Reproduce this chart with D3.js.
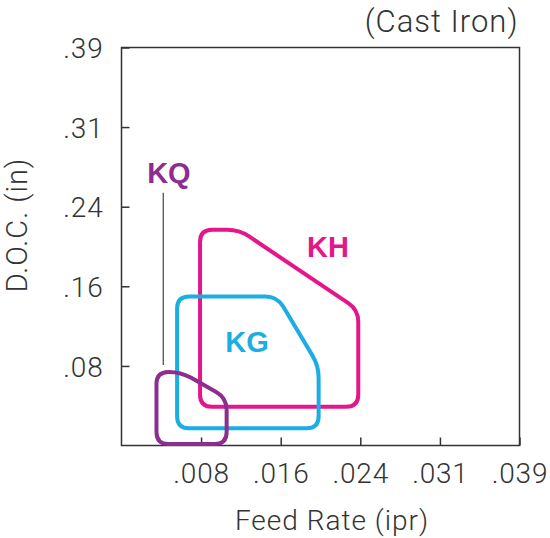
<!DOCTYPE html>
<html>
<head>
<meta charset="utf-8">
<script src="https://cdn.jsdelivr.net/npm/d3@7"></script>
<style>
  body { margin: 0; background: #fff; }
  svg text { font-family: Roboto, "Liberation Sans", sans-serif; }
</style>
</head>
<body>
<div id="chart"></div>
<script>
// tick values (inches, = 0.2 mm / 2 mm steps) and their printed labels
const xTicks = [0.00787, 0.01575, 0.02362, 0.0315, 0.03937];
const xTickLabels = [".008", ".016", ".024", ".031", ".039"];
const yTicks = [0.0787, 0.1575, 0.2362, 0.315, 0.3937];
const yTickLabels = [".08", ".16", ".24", ".31", ".39"];

// application areas: [feed (ipr), doc (in)]
const grades = ["KH", "KG", "KQ"];
const gradeColors = ["#e4168a", "#1baee3", "#8c2d8f"];
const khArea = [[0.00777, 0.2134], [0.01164, 0.2134], [0.02342, 0.1342], [0.02342, 0.0384], [0.00777, 0.0384]];
const kgArea = [[0.0055, 0.1474], [0.0154, 0.1474], [0.0195, 0.0787], [0.0195, 0.0170], [0.0055, 0.0170]];
const kqArea = [[0.00346, 0.0728], [0.00586, 0.0728], [0.0104, 0.0470], [0.0104, 0.0015], [0.00346, 0.0015]];
const areas = [khArea, kgArea, kqArea];

// label anchors (data units)
const labelAt = [[0.02043, 0.1867], [0.01241, 0.0921], [0.00469, 0.260]];
const kqLeader = [[0.00413, 0.250], [0.00413, 0.0797]];

const width = 550, height = 538;
const margin = { top: 47.5, right: 30.5, bottom: 92.5, left: 121.5 };

const svg = d3.select("#chart").append("svg")
    .attr("width", width)
    .attr("height", height);

const x = d3.scaleLinear()
    .domain([0, 0.03937])
    .range([margin.left, width - margin.right]);
const y = d3.scaleLinear()
    .domain([0, 0.3937])
    .range([height - margin.bottom, margin.top]);

// axes, ticks pointing inward
const xAxis = svg.append("g")
    .attr("transform", `translate(0,${height - margin.bottom})`)
    .call(d3.axisBottom(x).tickValues(xTicks)
        .tickFormat((d, i) => xTickLabels[i]).tickSizeInner(-8).tickSizeOuter(0).tickPadding(18));
const yAxis = svg.append("g")
    .attr("transform", `translate(${margin.left},0)`)
    .call(d3.axisLeft(y).tickValues(yTicks)
        .tickFormat((d, i) => yTickLabels[i]).tickSizeInner(-8).tickSizeOuter(0).tickPadding(18));

[xAxis, yAxis].forEach(g => {
    g.select(".domain").remove();
    g.selectAll(".tick line").attr("stroke", "#333").attr("stroke-width", 1.5);
    g.selectAll(".tick text")
        .attr("fill", "#333")
        .style("font-size", "28px")
        .style("font-weight", 300)
        .style("letter-spacing", "0.8px");
});
xAxis.selectAll(".tick text").attr("dy", "0.71em");
yAxis.selectAll(".tick text").attr("dy", "0.36em");

// frame
svg.append("rect")
    .attr("x", x(0))
    .attr("y", y(0.3937))
    .attr("width", x(0.03937) - x(0))
    .attr("height", y(0) - y(0.3937))
    .attr("fill", "none")
    .attr("stroke", "#333")
    .attr("stroke-width", 1.5);

// polygon with rounded corners
function roundedPath(pts, r) {
    const n = pts.length;
    let d = "";
    for (let i = 0; i < n; i++) {
        const p = pts[(i - 1 + n) % n], c = pts[i], q = pts[(i + 1) % n];
        const l1 = Math.hypot(p[0] - c[0], p[1] - c[1]);
        const l2 = Math.hypot(q[0] - c[0], q[1] - c[1]);
        const r1 = Math.min(r, l1 / 2), r2 = Math.min(r, l2 / 2);
        const a = [c[0] + (p[0] - c[0]) * r1 / l1, c[1] + (p[1] - c[1]) * r1 / l1];
        const b = [c[0] + (q[0] - c[0]) * r2 / l2, c[1] + (q[1] - c[1]) * r2 / l2];
        d += (i === 0 ? "M" : "L") + a[0] + "," + a[1];
        d += "Q" + c[0] + "," + c[1] + " " + b[0] + "," + b[1];
    }
    return d + "Z";
}

svg.selectAll(".area")
    .data(areas)
    .enter()
    .append("path")
    .attr("class", "area")
    .attr("d", a => roundedPath(a.map(p => [x(p[0]), y(p[1])]), 12))
    .attr("fill", "none")
    .attr("stroke", (a, i) => gradeColors[i])
    .attr("stroke-width", 4)
    .attr("stroke-linejoin", "round");

// KQ leader line
svg.append("line")
    .attr("x1", x(kqLeader[0][0])).attr("y1", y(kqLeader[0][1]))
    .attr("x2", x(kqLeader[1][0])).attr("y2", y(kqLeader[1][1]))
    .attr("stroke", "#444")
    .attr("stroke-width", 1.2);

// grade labels
svg.selectAll(".grade")
    .data(grades)
    .enter()
    .append("text")
    .attr("class", "grade")
    .attr("x", (g, i) => x(labelAt[i][0]))
    .attr("y", (g, i) => y(labelAt[i][1]))
    .attr("text-anchor", "middle")
    .attr("fill", (g, i) => gradeColors[i])
    .style("font-family", "'Liberation Sans', Arial, sans-serif")
    .style("font-size", "29px")
    .style("font-weight", "bold")
    .text(g => g);

// titles
svg.append("text")
    .attr("x", width - margin.right - 1)
    .attr("y", 32)
    .attr("text-anchor", "end")
    .attr("fill", "#333")
    .style("font-size", "31px")
    .style("font-weight", 300)
    .style("letter-spacing", "1px")
    .text("(Cast Iron)");

svg.append("text")
    .attr("x", 332)
    .attr("y", 530)
    .attr("text-anchor", "middle")
    .attr("fill", "#333")
    .style("font-size", "28px")
    .style("font-weight", 300)
    .style("letter-spacing", "1px")
    .text("Feed Rate (ipr)");

svg.append("text")
    .attr("transform", "translate(27,225) rotate(-90)")
    .attr("text-anchor", "middle")
    .attr("fill", "#333")
    .style("font-size", "29px")
    .style("font-weight", 300)
    .style("letter-spacing", "1px")
    .text("D.O.C. (in)");
</script>
</body>
</html>
